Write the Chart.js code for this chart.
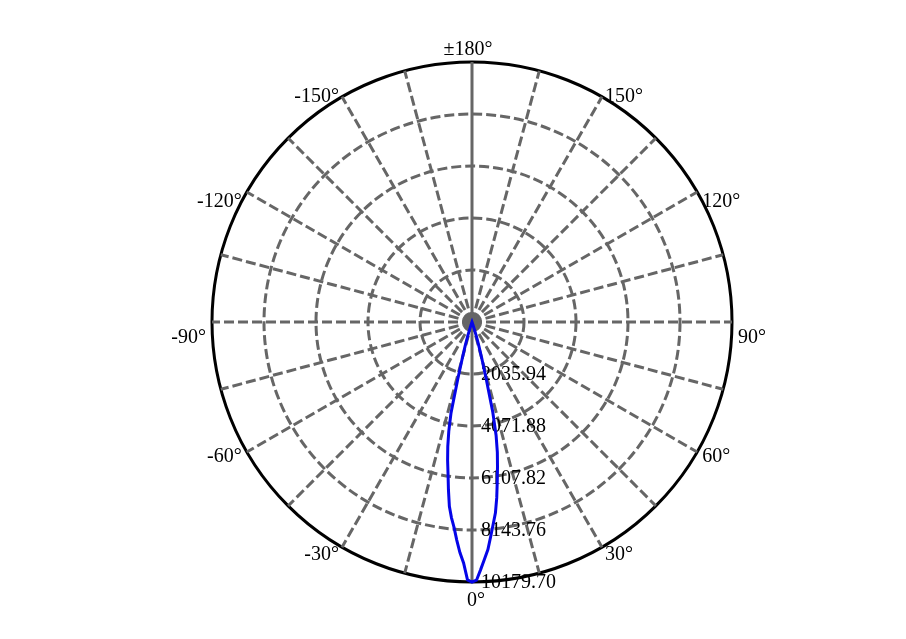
<!DOCTYPE html>
<html lang="en">
<head>
    <meta charset="UTF-8">
    <title>Polar intensity plot</title>
    <script src="https://cdn.jsdelivr.net/npm/chart.js@4.4.0/dist/chart.umd.min.js"></script>
    <style>
        * { margin: 0; padding: 0; box-sizing: border-box; }
        body { background: #fff; width: 906px; height: 639px; overflow: hidden; }
        #polar { display: block; }
    </style>
</head>
<body>
    <canvas id="polar" width="906" height="639"></canvas>

    <script>
        // radial ticks (cd) and their printed labels
        const tickValues = [0, 2035.94, 4071.88, 6107.82, 8143.76, 10179.70];
        const tickLabels = ['', '2035.94', '4071.88', '6107.82', '8143.76', '10179.70'];

        // angle labels shown round the rim
        const rimAngles = [180, 150, 120, 90, 60, 30, 0, -30, -60, -90, -120, -150];
        const rimLabels = ['±180°', '150°', '120°', '90°', '60°', '30°', '0°', '-30°', '-60°', '-90°', '-120°', '-150°'];

        // measured beam, every degree between -20 and 20 (zero outside)
        const beamAngles = [-20, -19, -18, -17, -16, -15, -14, -13, -12, -11, -10, -9, -8, -7, -6, -5, -4, -3, -2, -1,
                            0, 1, 2, 3, 4, 5, 6, 7, 8, 9, 10, 11, 12, 13, 14, 15, 16, 17, 18, 19, 20];
        const beamValues = [0, 60, 230, 540, 980, 1450, 2300, 3650, 4370, 4970, 5500, 6000, 6630, 7270, 7700, 8070, 8560, 9040, 9440, 10100,
                            10179.70, 10110, 9700, 9300, 8930, 8420, 7950, 7530, 6955, 6320, 5750, 5200, 4540, 3600, 2300, 1500, 1000, 600, 260, 80, 0];

        // one radar label per degree, starting at the top and going clockwise
        const angles = [];
        for (let i = 0; i < 360; i++) angles.push(180 - i);
        const intensity = angles.map(a => {
            const k = beamAngles.indexOf(a);
            return k >= 0 ? beamValues[k] : 0;
        });

        const GREY = '#666666';
        const FONT = '20px "Liberation Serif", "Times New Roman", serif';
        const lastTick = tickValues.length - 1;

        // text drawn with the scale's own geometry
        const polarText = {
            id: 'polarText',
            beforeDatasetsDraw(chart) {
                const r = chart.scales.r;
                const ctx = chart.ctx;
                ctx.save();
                ctx.font = FONT;
                ctx.fillStyle = '#000';
                ctx.textAlign = 'left';
                ctx.textBaseline = 'middle';
                tickValues.forEach((v, i) => {
                    if (!tickLabels[i]) return;
                    const d = r.getDistanceFromCenterForValue(v);
                    ctx.fillText(tickLabels[i], r.xCenter + 9, r.yCenter + d + 1);
                });
                ctx.restore();
            },
            afterDraw(chart) {
                const r = chart.scales.r;
                const ctx = chart.ctx;
                ctx.save();
                ctx.font = FONT;
                ctx.fillStyle = '#000';
                ctx.textBaseline = 'middle';
                rimAngles.forEach((a, k) => {
                    const p = r.getPointPosition(angles.indexOf(a), r.drawingArea + 6);
                    const rad = a * Math.PI / 180;
                    const s = Math.sin(rad), c = Math.cos(rad);
                    let dx = 0, dy;
                    if (Math.abs(s) < 0.1) {
                        ctx.textAlign = 'center';
                        dx = c > 0 ? 4 : -4;
                        dy = c > 0 ? 13 : -6;
                    } else {
                        ctx.textAlign = s > 0 ? 'left' : 'right';
                        dy = c <= 0.1 ? 2 + 14 * s * s : 2;
                    }
                    ctx.fillText(rimLabels[k], p.x + dx, p.y + dy);
                });
                ctx.restore();
            }
        };

        const polarChart = new Chart(document.getElementById('polar'), {
            type: 'radar',
            data: {
                labels: angles,
                datasets: [{
                    data: intensity,
                    borderColor: '#0505e8',
                    borderWidth: 3,
                    pointRadius: 0,
                    pointHoverRadius: 0,
                    fill: false,
                    tension: 0
                }]
            },
            options: {
                responsive: false,
                animation: false,
                layout: { padding: { left: 212, right: 174, top: 62, bottom: 57 } },
                plugins: {
                    legend: { display: false },
                    tooltip: { enabled: false }
                },
                scales: {
                    r: {
                        min: 0,
                        max: 10179.70,
                        startAngle: 0,
                        afterBuildTicks: scale => {
                            scale.ticks = tickValues.map(v => ({ value: v }));
                        },
                        ticks: { display: false },
                        pointLabels: { display: false },
                        grid: {
                            circular: true,
                            color: ctx => ctx.index === lastTick ? '#000' : GREY,
                            lineWidth: 3
                        },
                        border: {
                            dash: ctx => ctx.index === lastTick ? [] : [10, 4]
                        },
                        angleLines: {
                            color: GREY,
                            lineWidth: ctx => angles[ctx.index] % 15 === 0 ? 3 : 0,
                            borderDash: ctx => angles[ctx.index] % 180 === 0 ? [] : [10, 4]
                        }
                    }
                }
            },
            plugins: [polarText]
        });
    </script>
</body>
</html>
